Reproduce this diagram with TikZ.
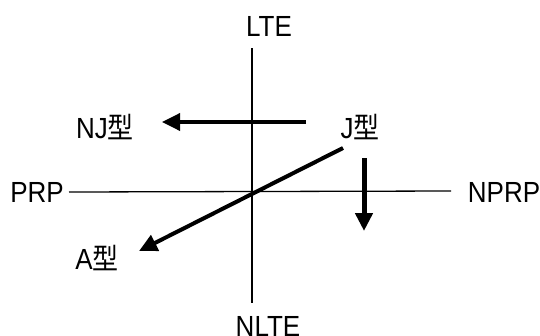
\documentclass[tikz,border=0pt]{standalone}
\usepackage{fontspec}
\setmainfont{Liberation Sans}
\newfontfamily\cjk{Noto Sans CJK JP}
\usetikzlibrary{arrows.meta}
\newcommand\talltext[1]{\scalebox{1}[1.12]{#1}}
\begin{document}
\begin{tikzpicture}[x=1pt,y=-1pt,
  lbl/.style={font=\fontsize{26}{30}\selectfont, inner sep=0pt, anchor=center},
  axis/.style={line width=1.3pt},
  bigarrow/.style={line width=4pt, -{Triangle[length=18pt,width=17pt]}}]
\useasboundingbox (0,0) rectangle (540,335);
\coordinate (top) at (252,48);
\coordinate (bot) at (252,303);
\coordinate (lft) at (69,192);
\coordinate (rgt) at (451,191);
\draw[axis] (top) -- (bot);
\draw[axis] (lft) -- (rgt);
\node[lbl] (lte) at (269,26) {\talltext{LTE}};
\node[lbl] (nlte) at (268,326) {\talltext{NLTE}};
\node[lbl] (prp) at (37,192) {\talltext{PRP}};
\node[lbl] (nprp) at (504,192) {\talltext{NPRP}};
\node[lbl] (nj) at (105,127) {\talltext{NJ{\cjk 型}}};
\node[lbl] (j) at (360,127) {\talltext{J{\cjk 型}}};
\node[lbl] (a) at (97,258) {\talltext{A{\cjk 型}}};
\coordinate (njs) at (306,122);
\coordinate (nje) at (162,122);
\coordinate (as) at (343,148);
\coordinate (ae) at (139,251);
\coordinate (ds) at (364,158);
\coordinate (de) at (364,231);
\draw[bigarrow, line width=3.5pt] (njs) -- (nje);
\draw[bigarrow] (as) -- (ae);
\draw[bigarrow, line width=5pt] (ds) -- (de);
\end{tikzpicture}
\end{document}
